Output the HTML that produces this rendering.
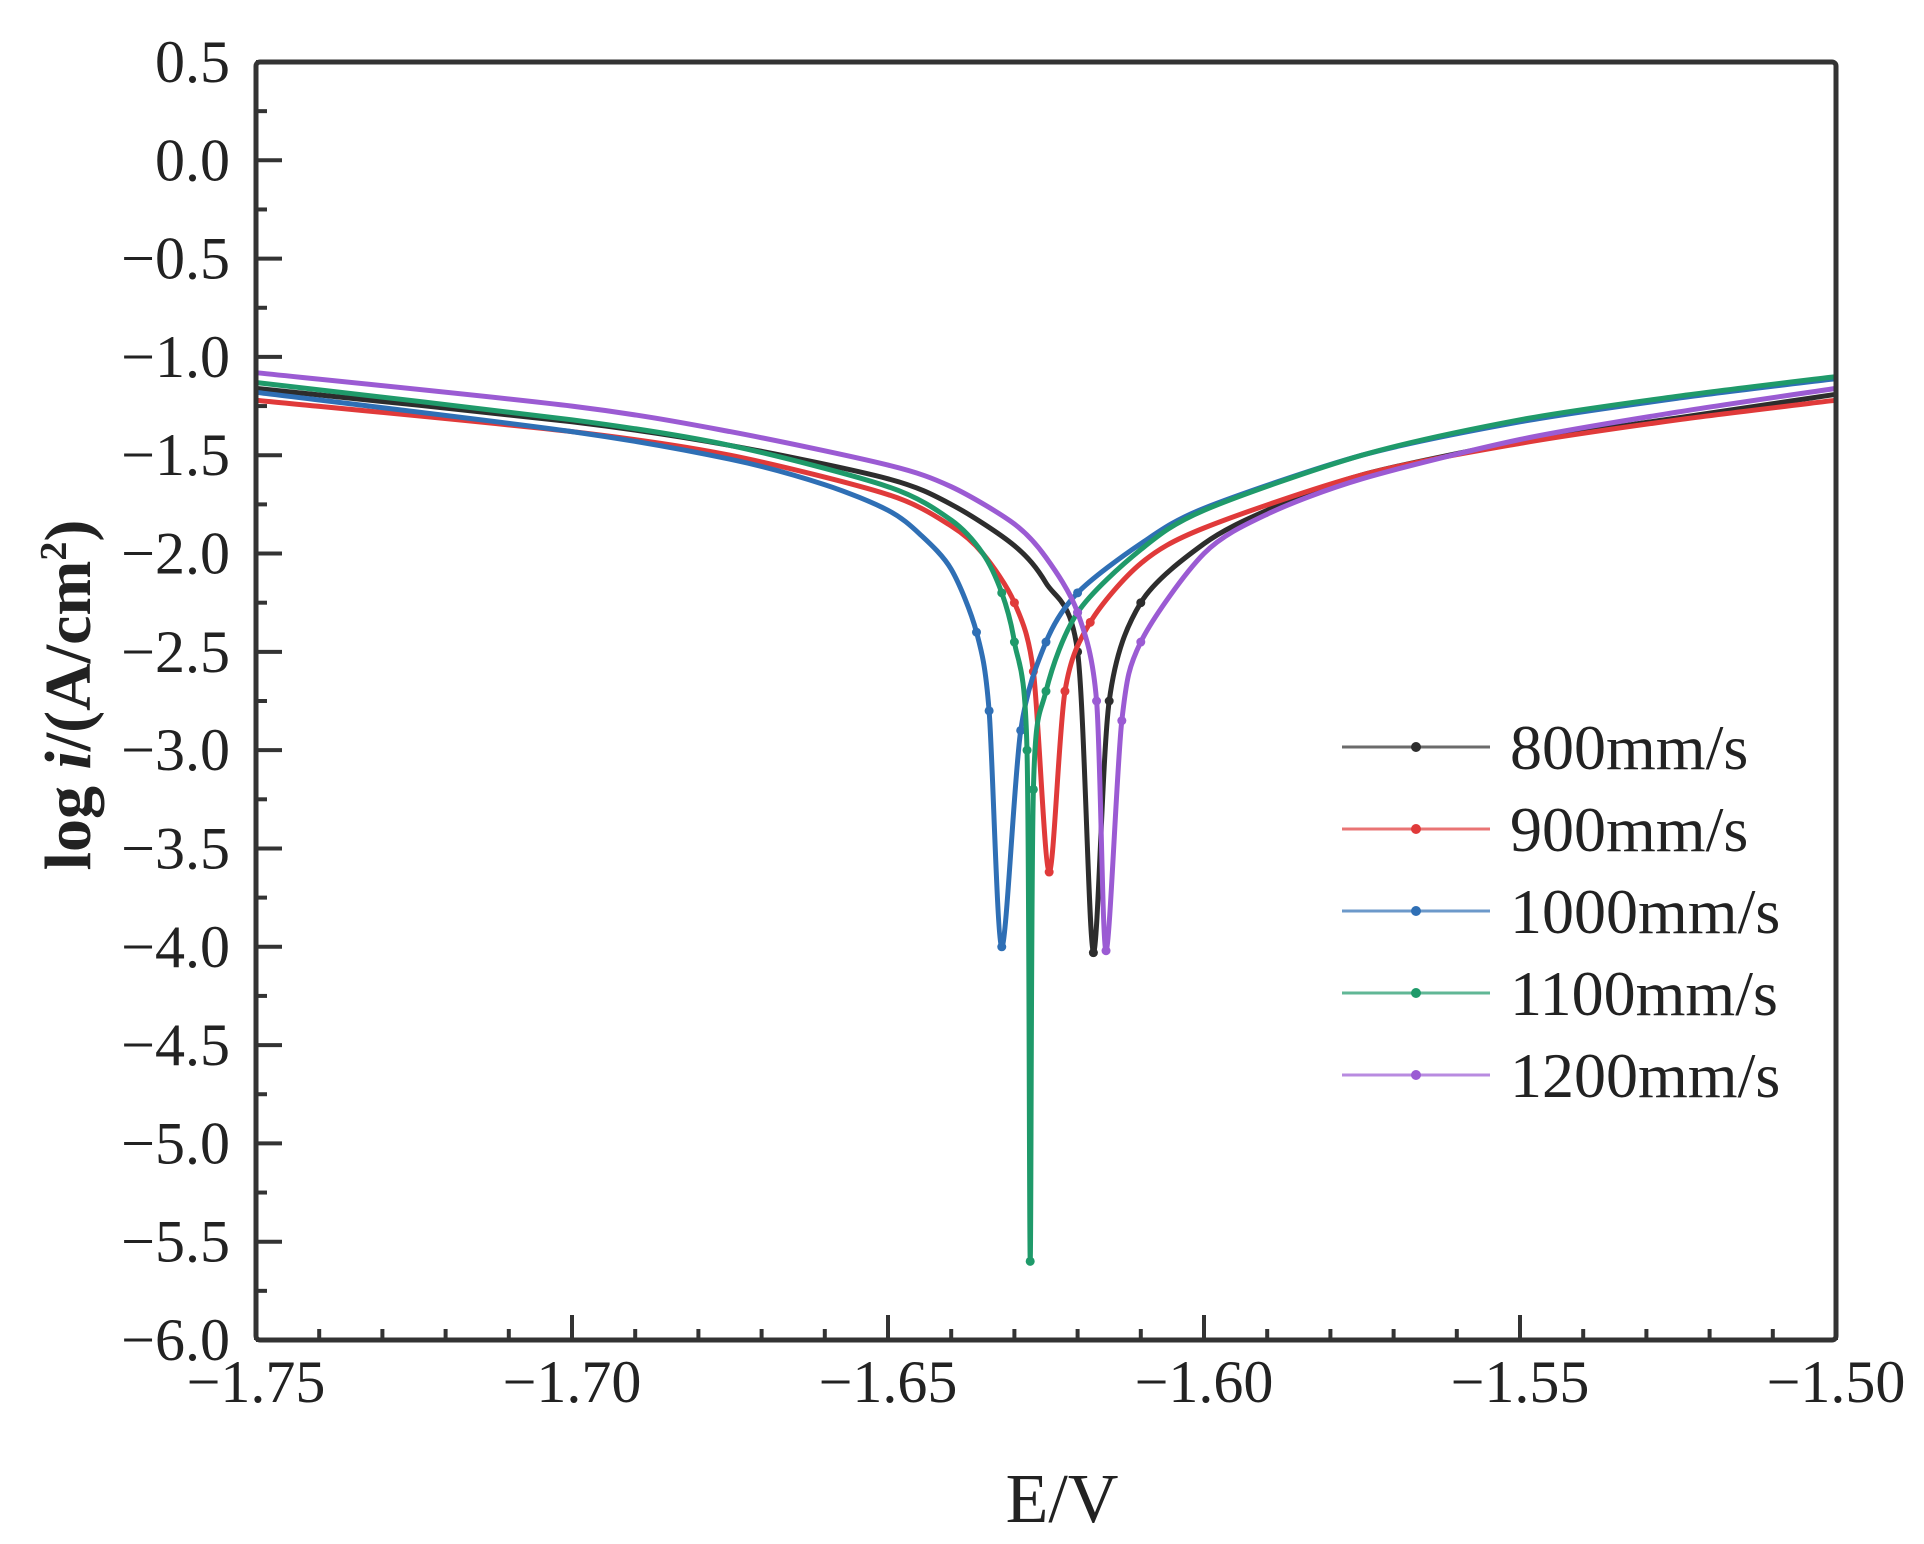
<!DOCTYPE html>
<html><head><meta charset="utf-8"><style>
html,body{margin:0;padding:0;background:#fff;}
svg{display:block;font-family:"Liberation Serif","Times New Roman",serif;}
</style></head><body>
<svg id="chart" width="1924" height="1544" viewBox="0 0 1924 1544" xmlns="http://www.w3.org/2000/svg">
<rect width="1924" height="1544" fill="#fff"/>
<g id="ticks"></g>
<g id="series"></g>
<rect x="256" y="62" width="1580" height="1278" fill="none" stroke="#333" stroke-width="5" rx="4"/>
<text transform="translate(90,695) rotate(-90)" text-anchor="middle" font-size="66" font-weight="bold" fill="#222">log <tspan font-style="italic">i</tspan>/(A/cm<tspan dy="-24" font-size="38">2</tspan><tspan dy="24">)</tspan></text>
<text x="1062" y="1522" text-anchor="middle" font-size="70" fill="#222">E/V</text>
<g id="legend"></g>
</svg>
<script>
const xTicks = [-1.75,-1.70,-1.65,-1.60,-1.55,-1.50];
const xTickLabels = ["−1.75","−1.70","−1.65","−1.60","−1.55","−1.50"];
const yTicks = [0.5,0.0,-0.5,-1.0,-1.5,-2.0,-2.5,-3.0,-3.5,-4.0,-4.5,-5.0,-5.5,-6.0];
const yTickLabels = ["0.5","0.0","−0.5","−1.0","−1.5","−2.0","−2.5","−3.0","−3.5","−4.0","−4.5","−5.0","−5.5","−6.0"];
const seriesNames = ["800mm/s","900mm/s","1000mm/s","1100mm/s","1200mm/s"];
const seriesColors = ["#2d2d2d","#e03a3a","#2f6fb5","#1f9a6a","#9b5bd3"];
const e800 = [-1.75,-1.70,-1.675,-1.65,-1.64,-1.63,-1.625,-1.62,-1.6175,-1.615,-1.61,-1.60,-1.59,-1.575,-1.55,-1.525,-1.50];
const v800 = [-1.16,-1.33,-1.45,-1.62,-1.75,-1.96,-2.15,-2.5,-4.03,-2.75,-2.25,-1.95,-1.78,-1.6,-1.43,-1.31,-1.19];
const e900 = [-1.75,-1.70,-1.675,-1.65,-1.64,-1.635,-1.63,-1.627,-1.6245,-1.622,-1.618,-1.61,-1.60,-1.575,-1.55,-1.525,-1.50];
const v900 = [-1.22,-1.38,-1.5,-1.7,-1.86,-2.0,-2.25,-2.6,-3.62,-2.7,-2.35,-2.05,-1.87,-1.6,-1.44,-1.32,-1.22];
const e1000 = [-1.75,-1.70,-1.675,-1.66,-1.65,-1.645,-1.64,-1.636,-1.634,-1.632,-1.629,-1.625,-1.62,-1.61,-1.60,-1.575,-1.55,-1.525,-1.50];
const v1000 = [-1.18,-1.38,-1.52,-1.65,-1.78,-1.9,-2.08,-2.4,-2.8,-4.0,-2.9,-2.45,-2.2,-1.95,-1.77,-1.5,-1.33,-1.21,-1.11];
const e1100 = [-1.75,-1.70,-1.675,-1.65,-1.64,-1.635,-1.632,-1.63,-1.628,-1.6275,-1.627,-1.625,-1.62,-1.61,-1.60,-1.575,-1.55,-1.525,-1.50];
const v1100 = [-1.13,-1.32,-1.45,-1.66,-1.83,-2.0,-2.2,-2.45,-3.0,-5.6,-3.2,-2.7,-2.3,-1.98,-1.78,-1.5,-1.32,-1.2,-1.10];
const e1200 = [-1.75,-1.70,-1.675,-1.65,-1.64,-1.63,-1.625,-1.62,-1.617,-1.6155,-1.613,-1.61,-1.60,-1.59,-1.575,-1.55,-1.525,-1.50];
const v1200 = [-1.08,-1.25,-1.38,-1.55,-1.66,-1.85,-2.02,-2.3,-2.75,-4.02,-2.85,-2.45,-2.0,-1.8,-1.62,-1.42,-1.28,-1.16];
const seriesE = [e800,e900,e1000,e1100,e1200];
const seriesV = [v800,v900,v1000,v1100,v1200];

const NS="http://www.w3.org/2000/svg";
const X0=256,X1=1836,Y0=1340,Y1=62;
function xs(v){return X0+(v-(-1.75))/(0.25)*(X1-X0);}
function ys(v){return Y0-(v-(-6.0))/(6.5)*(Y0-Y1);}
function mk(tag,attrs,parent){const el=document.createElementNS(NS,tag);for(const k in attrs)el.setAttribute(k,attrs[k]);parent.appendChild(el);return el;}
function smoothPath(P){
  let d='M'+P[0][0].toFixed(1)+','+P[0][1].toFixed(1);
  const k=1/7;
  for(let i=0;i<P.length-1;i++){
    const p0=P[Math.max(0,i-1)],p1=P[i],p2=P[i+1],p3=P[Math.min(P.length-1,i+2)];
    let c1x=p1[0]+(p2[0]-p0[0])*k,c1y=p1[1]+(p2[1]-p0[1])*k;
    let c2x=p2[0]-(p3[0]-p1[0])*k,c2y=p2[1]-(p3[1]-p1[1])*k;
    const lo=Math.min(p1[1],p2[1]),hi=Math.max(p1[1],p2[1]);
    c1y=Math.min(hi,Math.max(lo,c1y));c2y=Math.min(hi,Math.max(lo,c2y));
    d+=' C'+c1x.toFixed(1)+','+c1y.toFixed(1)+' '+c2x.toFixed(1)+','+c2y.toFixed(1)+' '+p2[0].toFixed(1)+','+p2[1].toFixed(1);
  }
  return d;
}

const tg=document.getElementById('ticks');
xTicks.forEach((t,i)=>{
  const x=xs(t);
  const l=mk('line',{x1:x,y1:Y0,x2:x,y2:Y0-25,stroke:'#333','stroke-width':4},tg);
  
  
  const tx=mk('text',{x:x,y:Y0+62,'text-anchor':'middle','font-size':60,fill:'#222'},tg);
  tx.textContent=xTickLabels[i];
  
  
});
for(let k=1;k<25;k++){
  if(k%5===0)continue;
  const x=xs(-1.75+k*0.01);
  const l=mk('line',{x1:x,y1:Y0,x2:x,y2:Y0-11,stroke:'#333','stroke-width':4},tg);
  
  
}
yTicks.forEach((t,i)=>{
  const y=ys(t);
  const l=mk('line',{x1:X0,y1:y,x2:X0+26,y2:y,stroke:'#333','stroke-width':4},tg);
  
  
  const tx=mk('text',{x:230,y:y+20,'text-anchor':'end','font-size':60,fill:'#222'},tg);
  tx.textContent=yTickLabels[i];
  
  
  if(i<yTicks.length-1){
    const ym=ys(t-0.25);
    const m=mk('line',{x1:X0,y1:ym,x2:X0+11,y2:ym,stroke:'#333','stroke-width':4},tg);
    
    
  }
});

const sg=document.getElementById('series');
seriesE.forEach((E,s)=>{
  const V=seriesV[s];
  const g=mk('g',{},sg);
  
  
  const P=E.map((e,i)=>[xs(e),ys(V[i])]);
  const pl=mk('path',{d:smoothPath(P),fill:'none',stroke:seriesColors[s],'stroke-width':5,'stroke-linejoin':'round'},g);
  
  
  E.forEach((e,i)=>{
    if(V[i]>-2.2)return;
    const c=mk('circle',{cx:xs(e),cy:ys(V[i]),r:4.5,fill:seriesColors[s]},g);
    
    
  });
});

const lg=document.getElementById('legend');
seriesNames.forEach((n,i)=>{
  const y=747+i*82;
  const g=mk('g',{},lg);
  
  
  mk('line',{x1:1342,y1:y,x2:1490,y2:y,stroke:seriesColors[i],'stroke-width':3,opacity:0.7},g);
  mk('circle',{cx:1416,cy:y,r:5,fill:seriesColors[i]},g);
  const t=mk('text',{x:1510,y:y+22,'font-size':64,fill:'#222'},g);
  t.textContent=n;
});
</script>
</body></html>
